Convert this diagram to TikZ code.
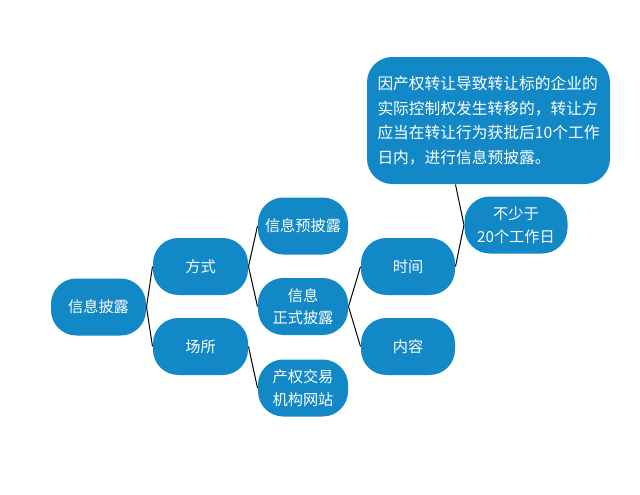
\documentclass[tikz,border=0pt]{standalone}
\usepackage{fontspec}
\newfontfamily\cjk{Noto Sans CJK SC}
\definecolor{mapblue}{RGB}{18,136,199}
\tikzset{every picture/.style={line width=0.75pt}}
\tikzset{
  mapbox/.style={fill=mapblue, text=white, rounded corners=19pt, inner sep=0pt,
    minimum width=71.25pt, minimum height=42.75pt, align=center,
    font=\cjk\fontsize{11.4}{17}\selectfont},
  notebox/.style={mapbox, minimum width=182.25pt, minimum height=95.25pt,
    inner sep=7.5pt, align=left, font=\cjk\fontsize{11.8}{18.5}\selectfont}
}
\begin{document}
\begin{tikzpicture}[x=0.75pt,y=0.75pt,yscale=-1,xscale=1]
    \useasboundingbox (0,0) rectangle (640,494); %set diagram to 640 x 494

    % Text Node
    \node [mapbox] (xxpl) at (98.5,307) {信息披露};
    % Text Node
    \node [mapbox] (fangshi) at (200.5,266.5) {方式};
    % Text Node
    \node [mapbox] (changsuo) at (200.5,346.5) {场所};
    % Text Node
    \node [mapbox, minimum width=67.5pt] (yupilu) at (303,226) {信息预披露};
    % Text Node
    \node [mapbox, minimum width=67.5pt] (zhengshi) at (303,306.5) {信息\\正式披露};
    % Text Node
    \node [mapbox, minimum width=67.5pt] (wangzhan) at (303,388) {产权交易\\机构网站};
    % Text Node
    \node [mapbox, minimum width=70.5pt] (shijian) at (408,266.5) {时间};
    % Text Node
    \node [mapbox, minimum width=70.5pt] (neirong) at (408,346.5) {内容};
    % Text Node
    \node [mapbox, minimum width=77.25pt] (buxiao) at (516,225) {不少于\\20个工作日};
    % Text Node
    \node [notebox] (yuqi) at (488.5,120.5) {因产权转让导致转让标的企业的\\实际控制权发生转移的，转让方\\应当在转让行为获批后10个工作\\日内，进行信息预披露。};

    %Straight Lines
    \draw (xxpl.east) -- (fangshi.west) ;
    %Straight Lines
    \draw (xxpl.east) -- (changsuo.west) ;
    %Straight Lines
    \draw (fangshi.east) -- (yupilu.west) ;
    %Straight Lines
    \draw (fangshi.east) -- (zhengshi.west) ;
    %Straight Lines
    \draw (changsuo.east) -- (wangzhan.west) ;
    %Straight Lines
    \draw (zhengshi.east) -- (shijian.west) ;
    %Straight Lines
    \draw (zhengshi.east) -- (neirong.west) ;
    %Straight Lines
    \draw (shijian.east) -- (buxiao.west) ;
    %Straight Lines
    \draw (buxiao.west) -- (yuqi.south -| shijian.east) ;

\end{tikzpicture}
\end{document}
